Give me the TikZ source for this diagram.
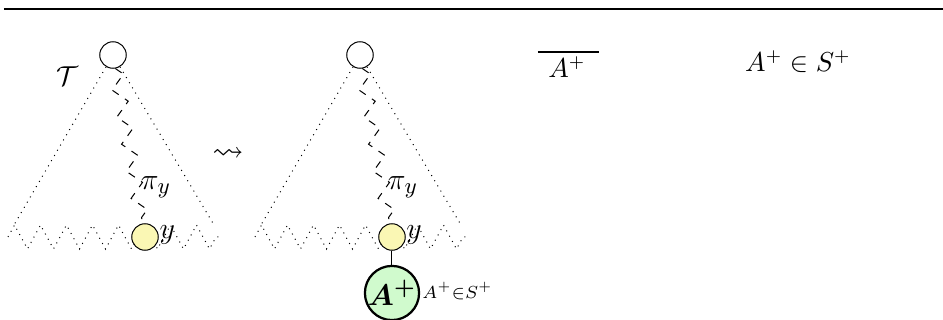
\documentclass[tikz,border=0pt]{standalone}
\usepackage{amsmath,amssymb}
\usetikzlibrary{decorations.pathmorphing,backgrounds}
\definecolor{ylw}{RGB}{250,247,180}
\definecolor{grn}{RGB}{208,250,205}
\begin{document}
\begin{tikzpicture}[x=0.4pt,y=-0.4pt,
  rootnode/.style={circle,draw,minimum size=10.6pt,inner sep=0pt},
  ynode/.style={circle,draw,fill=ylw,minimum size=10.6pt,inner sep=0pt},
  anode/.style={circle,draw,line width=0.9pt,fill=grn,minimum size=20pt,inner sep=0pt,font=\fontsize{13}{15}\selectfont},
  side/.style={dotted},
  frontier/.style={dotted,decorate,decoration={zigzag,segment length=10.4pt,amplitude=4.8pt}},
  pathline/.style={dashed,decorate,decoration={zigzag,segment length=11pt,amplitude=2.8pt}},
  lbl/.style={inner sep=0pt,font=\fontsize{10.5}{12}\selectfont},
  biglbl/.style={inner sep=0pt,font=\fontsize{12.5}{14}\selectfont}]
\useasboundingbox (0,0) rectangle (943,320);
% top rule
\coordinate (l0) at (4,9);
\coordinate (l1) at (943,9);
\draw[line width=0.8pt] (l0) -- (l1);

% ---- tree 1
\node[rootnode] (r1) at (113,55) {};
\node[ynode] (y1) at (145,237) {};
\coordinate (bl1) at (8,237);
\coordinate (br1) at (220,237);
\node[lbl] (T1) at (67,76) {$\mathcal{T}$};
\node[biglbl] (py1) at (156,187) {$\pi_y$};
\node[biglbl,anchor=west] (yl1) at (159,235) {$y$};

% leadsto
\node[biglbl] (lt) at (228,155) {$\leadsto$};

% ---- tree 2
\node[rootnode] (r2) at (360,55) {};
\node[ynode] (y2) at (392,237) {};
\coordinate (bl2) at (255,237);
\coordinate (br2) at (467,237);
\node[biglbl] (py2) at (403,187) {$\pi_y$};
\node[biglbl,anchor=west] (yl2) at (406,235) {$y$};
\node[anode] (a2) at (392,293) {$\boldsymbol{A^{+}}$};
\node[lbl,anchor=west,font=\fontsize{7.2}{9}\selectfont] (al2) at (422,291) {$A^{+}{\in}S^{+}$};
\draw (y2) -- (a2);

% ---- top right texts
\node[lbl] (fr) at (567,67) {$A^{+}$};
\coordinate (frl) at (538,52);
\coordinate (frr) at (599,52);
\draw[line width=0.45pt] (frl) -- (frr);
\node[lbl] (mem) at (798,62) {$A^{+} \in S^{+}$};

\begin{pgfonlayer}{background}
  \draw[side] (r1) -- ([xshift=2.4pt,yshift=4.8pt]bl1);
  \draw[side] (r1) -- ([xshift=-2.4pt,yshift=4.8pt]br1);
  \draw[frontier] (bl1) -- (br1);
  \draw[pathline] (r1) -- (y1);
  \draw[side] (r2) -- ([xshift=2.4pt,yshift=4.8pt]bl2);
  \draw[side] (r2) -- ([xshift=-2.4pt,yshift=4.8pt]br2);
  \draw[frontier] (bl2) -- (br2);
  \draw[pathline] (r2) -- (y2);
\end{pgfonlayer}
\end{tikzpicture}
\end{document}
